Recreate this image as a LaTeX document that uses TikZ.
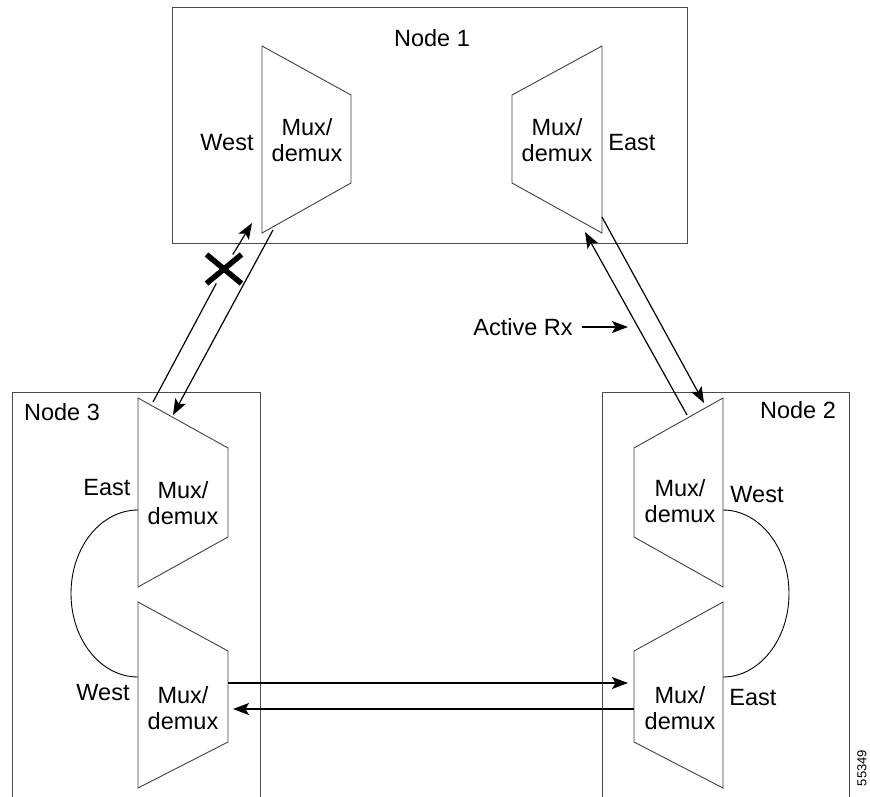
\documentclass[tikz,border=0pt]{standalone}
\usepackage{fontspec}
\setmainfont{Liberation Sans}
\usetikzlibrary{arrows.meta}
\usetikzlibrary{shapes.misc}

\begin{document}
\begin{tikzpicture}[x=1pt, y=-1pt,
	box/.style={draw=black!70, line width=0.9pt},
	mux/.style={draw=black!75, line width=0.9pt},
	txt/.style={inner sep=0pt, font=\fontsize{23.5}{25.5}\selectfont},
	muxtxt/.style={txt, align=center},
	link/.style={line width=1.2pt, -{Stealth[length=16pt, width=12pt, inset=3.5pt]}},
	loop/.style={line width=0.9pt}]
	\useasboundingbox (0,0) rectangle (870,796);
	% the three nodes
	\draw[box] (172,7) rectangle (687,243);
	\draw[box] (12,800) -- (12,392) -- (260,392) -- (260,800);
	\draw[box] (602,800) -- (602,392) -- (849,392) -- (849,800);
	\node[txt] (n1) at (432,38) {Node 1};
	\node[txt] (n3) at (62,412) {Node 3};
	\node[txt] (n2) at (798,410) {Node 2};
	% mux/demux blocks
	\draw[mux] (262,46) -- (351,95) -- (351,183) -- (262,233) -- cycle;
	\draw[mux] (602,46) -- (512,95) -- (512,183) -- (602,233) -- cycle;
	\draw[mux] (138,398) -- (228,448) -- (228,537) -- (138,587) -- cycle;
	\draw[mux] (138,602) -- (228,651) -- (228,742) -- (138,788) -- cycle;
	\draw[mux] (723,398) -- (634,448) -- (634,537) -- (723,587) -- cycle;
	\draw[mux] (723,602) -- (634,651) -- (634,742) -- (723,788) -- cycle;
	\node[muxtxt] (m1w) at (307,140) {Mux/\\demux};
	\node[muxtxt] (m1e) at (557,140) {Mux/\\demux};
	\node[muxtxt] (m3e) at (183,503) {Mux/\\demux};
	\node[muxtxt] (m3w) at (183,708) {Mux/\\demux};
	\node[muxtxt] (m2w) at (680,501) {Mux/\\demux};
	\node[muxtxt] (m2e) at (680,708) {Mux/\\demux};
	% ports
	\node[txt] (w1) at (227,143) {West};
	\node[txt] (e1) at (632,143) {East};
	\node[txt] (e3) at (107,488) {East};
	\node[txt] (w3) at (103,693) {West};
	\node[txt] (w2) at (757,495) {West};
	\node[txt] (e2) at (753,698) {East};
	% connector ends
	\coordinate (m1w-in) at (252,223);
	\coordinate (m1w-out) at (273,230);
	\coordinate (m3e-out) at (153,402);
	\coordinate (m3e-in) at (173,415);
	\coordinate (m1e-in) at (585,232);
	\coordinate (m1e-out) at (602,217);
	\coordinate (m2w-in) at (704,403);
	\coordinate (m2w-out) at (687,415);
	\coordinate (m3w-out) at (228,683);
	\coordinate (m2e-in) at (628,683);
	\coordinate (m2e-out) at (634,709);
	\coordinate (m3w-in) at (233,709);
	\coordinate (m3e-top) at (138,510);
	\coordinate (m3w-bot) at (138,677);
	\coordinate (m2w-top) at (723,510);
	\coordinate (m2e-bot) at (723,677);
	% node 1 <-> node 3, broken span
	\node[cross out, draw, line width=5.5pt, minimum width=23pt, minimum height=17pt,
		inner sep=0pt, outer sep=6pt] (cut) at (224,269) {};
	\draw[line width=1.2pt] (m3e-out) -- (cut);
	\draw[link] (cut) -- (m1w-in);
	\draw[link] (m1w-out) -- (m3e-in);
	% node 1 <-> node 2
	\draw[link] (m1e-out) -- (m2w-in);
	\draw[link] (m2w-out) -- (m1e-in);
	\node[txt] (rx) at (523,327) {Active Rx};
	\coordinate (rx-tip) at (628,327);
	\draw[link] ([xshift=9pt]rx.east) -- (rx-tip);
	% node 3 <-> node 2
	\draw[link] (m3w-out) -- (m2e-in);
	\draw[link] (m2e-out) -- (m3w-in);
	% loopbacks
	\draw[loop] (m3e-top) .. controls (101,510) and (71,547) .. (71,593.5)
		.. controls (71,640) and (101,677) .. (m3w-bot);
	\draw[loop] (m2w-top) .. controls (759,510) and (789,547) .. (789,593.5)
		.. controls (789,640) and (759,677) .. (m2e-bot);
	\node[rotate=90, inner sep=0pt, font=\fontsize{13}{15}\selectfont] (fig) at (862,768) {55349};
\end{tikzpicture}
\end{document}
